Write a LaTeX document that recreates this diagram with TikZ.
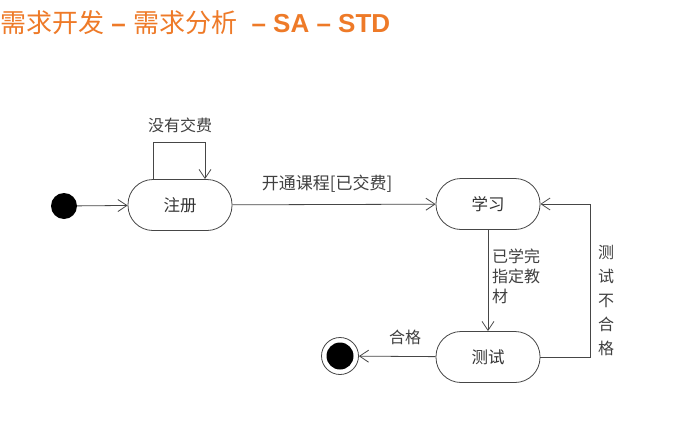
\documentclass[tikz,border=0pt]{standalone}
\usepackage{fontspec}
\setmainfont{Liberation Sans}
\newfontfamily\cjk{Noto Sans CJK SC}
\usetikzlibrary{arrows.meta}
\definecolor{titleorange}{RGB}{238,122,40}
\definecolor{linegray}{RGB}{70,70,70}
\tikzset{
  px/.style={x=1pt,y=-1pt},
  statebox/.style={draw=linegray, line width=0.8pt, rounded corners=25pt, minimum width=104pt, minimum height=51pt, font=\cjk\fontsize{16.5}{20}\selectfont, text=black!80},
  trans/.style={draw=linegray, line width=0.8pt, -{Straight Barb[length=9pt,width=12pt,line width=0.8pt]}},
  lbl/.style={font=\cjk\fontsize{16}{20}\selectfont, text=black!75, inner sep=0pt},
}
\begin{document}
\begin{tikzpicture}[px]
\useasboundingbox (0,0) rectangle (682,431);
\fill[white] (0,0) rectangle (682,431);
% title
\node[anchor=west, inner sep=0pt, text=titleorange, font=\fontsize{26}{30}\selectfont] (title) at (0,23)
  {{\cjk 需求开发} \textbf{–} {\cjk 需求分析}\ \ \textbf{– SA – STD}};
% states
\node[circle, fill=black, minimum size=26pt, inner sep=0pt] (init) at (64,206) {};
\node[statebox] (reg) at (180,205) {注册};
\node[statebox] (learn) at (488,204) {学习};
\node[statebox] (test) at (488,357) {测试};
\node[circle, draw=linegray, line width=0.8pt, minimum size=37pt, inner sep=0pt] (final) at (340,356) {};
\node[circle, fill=black, minimum size=27pt, inner sep=0pt] at (final.center) {};
% coordinates
\coordinate (loopA) at (153,142);
\coordinate (loopB) at (205,142);
\coordinate (retA) at (590,357);
\coordinate (retB) at (590,204);
% transitions
\draw[trans] (init) -- (reg);
\draw[trans] (reg.north -| loopA) -- (loopA) -- (loopB) -- (reg.north -| loopB);
\draw[trans] (reg) -- (learn);
\draw[trans] (learn) -- (test);
\draw[trans] (test.east) -- (retA) -- (retB) -- (learn.east);
\draw[trans] (test) -- (final);
% labels
\node[lbl] (l1) at (180,125) {没有交费};
\node[lbl, font=\cjk\fontsize{17}{20}\selectfont] (l2) at (327,184) {开通课程[已交费]};
\node[lbl, anchor=north west, align=left] (l3) at (492,249) {已学完\\指定教\\材};
\node[lbl, anchor=north, align=center, font=\cjk\fontsize{16}{24}\selectfont] (l4) at (606,245) {测\\试\\不\\合\\格};
\node[lbl] (l5) at (405,337) {合格};
\end{tikzpicture}
\end{document}
